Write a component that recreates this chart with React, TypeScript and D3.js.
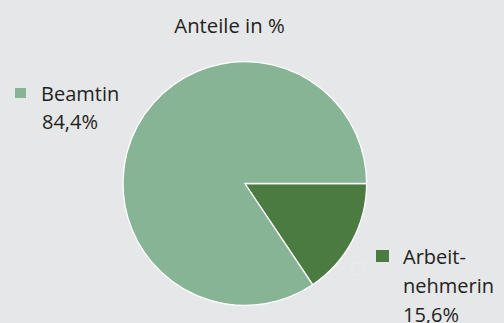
import React from "react";
import * as d3 from "d3";

const categories = ["Arbeitnehmerin", "Beamtin"];
const values = [15.6, 84.4];
const colors = ["#4b7b40", "#87b494"];
const title = "Anteile in %";
const labelLinesBeamtin = ["Beamtin", "84,4%"];
const labelLinesArbeit = ["Arbeit-", "nehmerin", "15,6%"];

const W = 504;
const H = 323;
const cx = 244.8;
const cy = 183.5;
const R = 121.8;

export default function App() {
  const data = categories.map((c, i) => ({ c, v: values[i], color: colors[i] }));
  const pie = d3
    .pie<any>()
    .sort(null)
    .value((d: any) => d.v)
    .startAngle(Math.PI / 2)
    .endAngle(Math.PI / 2 + 2 * Math.PI);
  const arcs = pie(data);
  const arc = d3.arc<any>().innerRadius(0).outerRadius(R);
  const font = "'Open Sans', sans-serif";
  const textColor = "#231f20";

  return (
    <div style={{ position: "fixed", left: 0, top: 0, width: W, height: H }}>
      <svg width={W} height={H} style={{ display: "block" }}>
        <rect x={0} y={0} width={W} height={H} fill="#e6e7e8" />
        <text
          x={229.5}
          y={33}
          textAnchor="middle"
          fontFamily={font}
          fontSize={20.3}
          fill={textColor}
        >
          {title}
        </text>
        <g transform={`translate(${cx},${cy})`}>
          {arcs.map((a, i) => (
            <path
              key={i}
              d={arc(a) as string}
              fill={a.data.color}
              stroke="#ffffff"
              strokeWidth={1.3}
              strokeLinejoin="round"
            />
          ))}
        </g>
        {/* faint ghost marker */}
        <rect x={352} y={263} width={12} height={12} fill="none" stroke="#ebebec" strokeWidth={1} />
        {/* Legend Beamtin */}
        <rect x={15} y={88} width={11} height={10} fill={colors[1]} />
        {labelLinesBeamtin.map((t, i) => (
          <text
            key={t}
            x={i === 0 ? 41 : 42}
            y={101 + i * 28}
            fontFamily={font}
            fontSize={20}
            fill={textColor}
          >
            {t}
          </text>
        ))}
        {/* Legend Arbeitnehmerin */}
        <rect x={376} y={250} width={13} height={12} fill={colors[0]} />
        {labelLinesArbeit.map((t, i) => (
          <text
            key={t}
            x={403}
            y={263.5 + i * 29}
            fontFamily={font}
            fontSize={20}
            fill={textColor}
          >
            {t}
          </text>
        ))}
      </svg>
    </div>
  );
}
